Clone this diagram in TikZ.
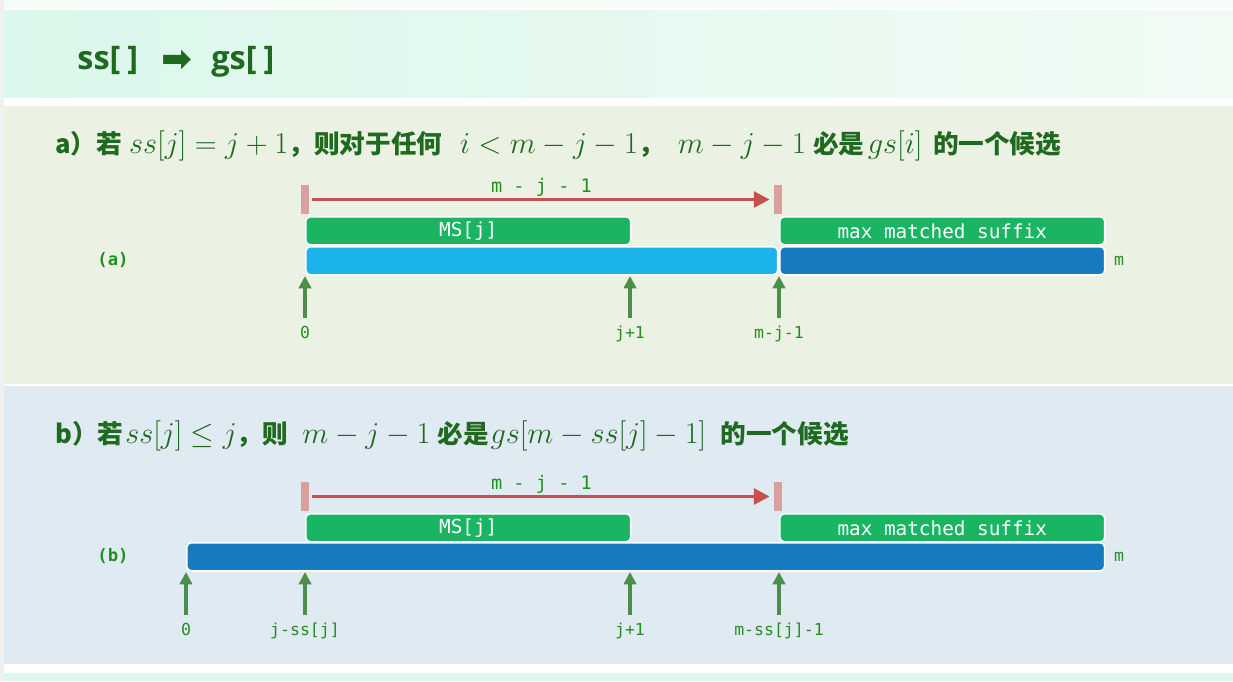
\documentclass[tikz,border=0pt]{standalone}
\usepackage{fontspec}
\setsansfont{Open Sans}
\setmonofont{DejaVu Sans Mono}
\newfontfamily\cjk{Noto Sans CJK SC}
\newfontfamily\symb{DejaVu Sans}
\usetikzlibrary{arrows.meta}

\definecolor{bandl}{HTML}{DCF7EB}
\definecolor{bandr}{HTML}{F0FBF4}
\definecolor{panela}{HTML}{EBF1E3}
\definecolor{panelb}{HTML}{E0EAF2}
\definecolor{headgreen}{HTML}{1E6A1E}
\definecolor{lblgreen}{HTML}{22901F}
\definecolor{msgreen}{HTML}{1AB562}
\definecolor{skyblue}{HTML}{1AB4EA}
\definecolor{deepblue}{HTML}{177BC2}
\definecolor{tickpink}{HTML}{D9A19B}
\definecolor{spanred}{HTML}{C5504C}
\definecolor{ptrgreen}{HTML}{4B8F4B}

% math set larger than the Chinese text
\newcommand{\mth}[1]{{\fontsize{18.5}{20}\selectfont$#1$}}
\newcommand{\gap}[1]{\hspace{#1pt}}

\tikzset{
  seg/.style={draw=white, line width=0.9pt, rounded corners=2.5pt, anchor=north west,
    minimum height=0.56cm, inner sep=0pt},
  msbox/.style={seg, fill=msgreen, text=white, font=\ttfamily\fontsize{11}{12}\selectfont},
  tickmark/.style={fill=tickpink, minimum width=0.16cm, minimum height=0.58cm, inner sep=0pt},
  span/.style={draw=spanred, line width=2pt, -{Triangle[width=9pt,length=9pt]},
    shorten <=1.7pt, shorten >=2.3pt},
  ptr/.style={draw=ptrgreen, line width=2pt, -{Triangle[width=7pt,length=7pt]}, shorten <=4.5pt},
  lbl/.style={text=lblgreen, font=\ttfamily\fontsize{9.4}{11}\selectfont, inner sep=0pt,
    text height=7pt, text depth=2pt},
  head/.style={anchor=west, text=headgreen, inner sep=0pt,
    font=\cjk\bfseries\fontsize{14.6}{17}\selectfont},
}

\begin{document}
\begin{tikzpicture}[x=0.02cm, y=-0.02cm, line join=round]
\useasboundingbox (0,0) rectangle (1233,681);
% backgrounds
\fill[white] (0,0) rectangle (1233,681);
\fill[black!6] (0,0) rectangle (4,681);
\fill[bandr!70!white] (4,0) rectangle (1233,8);
\shade[left color=bandl, right color=bandr] (4,10) rectangle (1233,97);
\fill[panela] (4,106) rectangle (1233,384);
\fill[panelb] (4,386) rectangle (1233,664);
\fill[bandl] (4,673) rectangle (1233,681);

% title
\node[anchor=west, text=headgreen, inner sep=0pt, font=\sffamily\bfseries\fontsize{18.5}{22}\selectfont]
  (title) at (77,62) {ss[\hspace{4pt}]\hspace{13pt}\raisebox{-1pt}{\symb\fontsize{21}{22}\selectfont ➡}\hspace{11pt}gs[\hspace{4pt}]};

% ---------- panel a ----------
\node[head] (heada) at (55,146)
  {a）若\gap{4}\mth{ss[j]=j+1}，则对于任何\gap{10}\mth{i<m-j-1}，\gap{8}\mth{m-j-1}\gap{4}必是\gap{2}\mth{gs[i]}\gap{6}的一个候选};

\node[tickmark] (ta1) at (305,199.5) {};
\node[tickmark] (ta2) at (778,199.5) {};
\draw[span] (ta1.east) -- (ta2.west) node[lbl, midway, above=1pt, font=\ttfamily\fontsize{10.6}{12}\selectfont] (spana) {m - j - 1};

\node[msbox, minimum width=6.5cm] (msa) at (305,216) {MS[j]};
\node[msbox, minimum width=6.5cm] (sufa) at (779,216) {max matched suffix};
\node[seg, fill=skyblue, minimum width=9.44cm] (bara1) at (305,246) {};
\node[seg, fill=deepblue, minimum width=6.5cm] (bara2) at (779,246) {};

\node[lbl, font=\ttfamily\bfseries\fontsize{9.8}{11}\selectfont] (taga) at (113,261) {(a)};
\node[lbl] (ma) at (1119,261) {m};

\foreach \x/\t/\n in {305/0/p0, 630/j+1/p1, 779/m-j-1/p2}{
  \coordinate (a-\n-tip) at (\x,276);
  \node[lbl] (a-\n) at (\x,334) {\t};
  \draw[ptr] (a-\n) -- (a-\n-tip);
}

% ---------- panel b ----------
\node[head] (headb) at (55,436)
  {b）若\gap{1}\mth{ss[j]\le j}，则\gap{8}\mth{m-j-1}\gap{4}必是\gap{1}\mth{gs[m-ss[j]-1]}\gap{8}的一个候选};

\node[tickmark] (tb1) at (305,496.5) {};
\node[tickmark] (tb2) at (778,496.5) {};
\draw[span] (tb1.east) -- (tb2.west) node[lbl, midway, above=1pt, font=\ttfamily\fontsize{10.6}{12}\selectfont] (spanb) {m - j - 1};

\node[msbox, minimum width=6.5cm] (msb) at (305,513) {MS[j]};
\node[msbox, minimum width=6.5cm] (sufb) at (779,513) {max matched suffix};
\node[seg, fill=deepblue, minimum width=18.36cm] (barb) at (186,542) {};

\node[lbl, font=\ttfamily\bfseries\fontsize{9.8}{11}\selectfont] (tagb) at (113,557) {(b)};
\node[lbl] (mb) at (1119,557) {m};

\foreach \x/\t/\n in {186/0/p0, 305/j-ss[j]/p1, 630/j+1/p2, 779/m-ss[j]-1/p3}{
  \coordinate (b-\n-tip) at (\x,572);
  \node[lbl] (b-\n) at (\x,631) {\t};
  \draw[ptr] (b-\n) -- (b-\n-tip);
}
\end{tikzpicture}
\end{document}
